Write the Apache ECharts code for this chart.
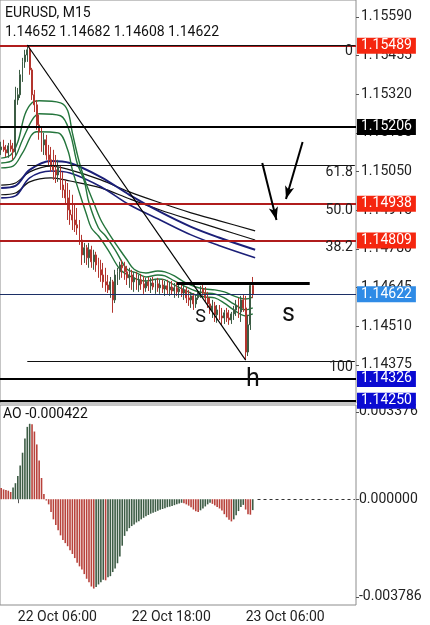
<!DOCTYPE html>
<html><head><meta charset="utf-8">
<script src="https://cdn.jsdelivr.net/npm/echarts@6/dist/echarts.min.js"></script>
<style>html,body{margin:0;padding:0;background:#fff}#c{width:430px;height:625px}</style>
</head><body><div id="c"></div>
<script>
// ---- data (EURUSD M15, candle index 0 = 22 Oct 04:15) ----
const opens = [1.15126,1.15136,1.15126,1.15115,1.15140,1.15129,1.15119,1.15300,1.15318,1.15388,1.15433,1.15457,1.15475,1.15405,1.15318,1.15283,1.15213,1.15189,1.15143,1.15161,1.15108,1.15091,1.15073,1.15056,1.15038,1.15063,1.15003,1.14986,1.14958,1.14916,1.14899,1.14881,1.14864,1.14853,1.14811,1.14759,1.14784,1.14749,1.14777,1.14735,1.14759,1.14724,1.14707,1.14689,1.14665,1.14654,1.14637,1.14665,1.14602,1.14689,1.14700,1.14724,1.14714,1.14700,1.14679,1.14689,1.14665,1.14679,1.14654,1.14672,1.14658,1.14644,1.14665,1.14651,1.14661,1.14647,1.14658,1.14644,1.14654,1.14640,1.14651,1.14637,1.14647,1.14633,1.14644,1.14630,1.14640,1.14626,1.14637,1.14609,1.14602,1.14616,1.14588,1.14609,1.14630,1.14640,1.14626,1.14609,1.14588,1.14567,1.14581,1.14550,1.14567,1.14546,1.14539,1.14557,1.14539,1.14532,1.14553,1.14567,1.14584,1.14560,1.14602,1.14574,1.14420,1.14515,1.14652];
const highs = [1.15154,1.15161,1.15143,1.15150,1.15161,1.15150,1.15346,1.15342,1.15405,1.15447,1.15475,1.15492,1.15482,1.15412,1.15335,1.15300,1.15248,1.15203,1.15185,1.15178,1.15143,1.15136,1.15126,1.15108,1.15091,1.15073,1.15049,1.15021,1.15010,1.14986,1.14969,1.14934,1.14923,1.14881,1.14829,1.14801,1.14794,1.14801,1.14791,1.14777,1.14770,1.14749,1.14742,1.14731,1.14714,1.14689,1.14682,1.14672,1.14707,1.14714,1.14735,1.14742,1.14735,1.14721,1.14714,1.14707,1.14700,1.14700,1.14689,1.14693,1.14686,1.14679,1.14682,1.14679,1.14682,1.14675,1.14679,1.14672,1.14675,1.14668,1.14672,1.14665,1.14668,1.14661,1.14665,1.14658,1.14661,1.14651,1.14647,1.14637,1.14630,1.14626,1.14619,1.14637,1.14651,1.14654,1.14647,1.14630,1.14609,1.14602,1.14595,1.14584,1.14584,1.14574,1.14567,1.14574,1.14567,1.14560,1.14581,1.14602,1.14609,1.14616,1.14619,1.14616,1.14550,1.14661,1.14682];
const lows = [1.15108,1.15119,1.15101,1.15098,1.15119,1.15091,1.15101,1.15283,1.15307,1.15363,1.15412,1.15433,1.15388,1.15300,1.15258,1.15196,1.15161,1.15119,1.15108,1.15091,1.15073,1.15049,1.15021,1.15010,1.15014,1.14986,1.14958,1.14934,1.14881,1.14864,1.14846,1.14839,1.14829,1.14794,1.14724,1.14731,1.14724,1.14714,1.14714,1.14707,1.14700,1.14679,1.14665,1.14644,1.14630,1.14626,1.14609,1.14557,1.14591,1.14654,1.14672,1.14679,1.14672,1.14654,1.14644,1.14637,1.14630,1.14637,1.14630,1.14637,1.14623,1.14630,1.14633,1.14626,1.14637,1.14623,1.14630,1.14623,1.14626,1.14616,1.14623,1.14616,1.14619,1.14609,1.14616,1.14609,1.14612,1.14602,1.14591,1.14581,1.14574,1.14567,1.14574,1.14602,1.14609,1.14616,1.14595,1.14574,1.14553,1.14539,1.14525,1.14522,1.14532,1.14515,1.14518,1.14525,1.14515,1.14518,1.14532,1.14546,1.14539,1.14525,1.14560,1.14392,1.14406,1.14497,1.14608];
const closes = [1.15136,1.15126,1.15115,1.15140,1.15129,1.15119,1.15300,1.15318,1.15388,1.15433,1.15457,1.15475,1.15405,1.15318,1.15283,1.15213,1.15189,1.15143,1.15161,1.15108,1.15091,1.15073,1.15056,1.15038,1.15063,1.15003,1.14986,1.14958,1.14916,1.14899,1.14881,1.14864,1.14853,1.14811,1.14759,1.14784,1.14749,1.14777,1.14735,1.14759,1.14724,1.14707,1.14689,1.14665,1.14654,1.14637,1.14665,1.14602,1.14689,1.14700,1.14724,1.14714,1.14700,1.14679,1.14689,1.14665,1.14679,1.14654,1.14672,1.14658,1.14644,1.14665,1.14651,1.14661,1.14647,1.14658,1.14644,1.14654,1.14640,1.14651,1.14637,1.14647,1.14633,1.14644,1.14630,1.14640,1.14626,1.14637,1.14609,1.14602,1.14616,1.14588,1.14609,1.14630,1.14640,1.14626,1.14609,1.14588,1.14567,1.14581,1.14550,1.14567,1.14546,1.14539,1.14557,1.14539,1.14532,1.14553,1.14567,1.14584,1.14560,1.14602,1.14574,1.14420,1.14515,1.14652,1.14622];
const aoValues = [0.00043,0.00038,0.00036,0.00033,0.00028,0.00045,0.00062,0.00090,0.00130,0.00180,0.00235,0.00280,0.00292,0.00290,0.00262,0.00212,0.00150,0.00082,0.00020,-0.00005,-0.00020,-0.00050,-0.00078,-0.00100,-0.00120,-0.00140,-0.00158,-0.00170,-0.00182,-0.00198,-0.00212,-0.00228,-0.00246,-0.00260,-0.00272,-0.00290,-0.00308,-0.00322,-0.00338,-0.00346,-0.00340,-0.00330,-0.00322,-0.00312,-0.00314,-0.00302,-0.00298,-0.00282,-0.00268,-0.00248,-0.00222,-0.00180,-0.00142,-0.00124,-0.00112,-0.00104,-0.00098,-0.00090,-0.00085,-0.00078,-0.00072,-0.00066,-0.00061,-0.00056,-0.00052,-0.00049,-0.00045,-0.00041,-0.00038,-0.00035,-0.00031,-0.00029,-0.00026,-0.00023,-0.00020,-0.00017,-0.00014,-0.00016,-0.00020,-0.00025,-0.00031,-0.00040,-0.00047,-0.00050,-0.00043,-0.00036,-0.00028,-0.00020,-0.00014,-0.00018,-0.00024,-0.00030,-0.00036,-0.00044,-0.00058,-0.00070,-0.00080,-0.00086,-0.00078,-0.00062,-0.00046,-0.00030,-0.00022,-0.00040,-0.00058,-0.00060,-0.000422];
// moving averages [candleIndex, price]
const greenUpper = [[0,1.15097],[4,1.15108],[7,1.15153],[10,1.15249],[13,1.15290],[16,1.15297],[25,1.15290],[28,1.15263],[30,1.15185],[33,1.15080],[36,1.15003],[39,1.14941],[42,1.14881],[45,1.14839],[50,1.14777],[53,1.14742],[56,1.14709],[61,1.14696],[66,1.14703],[69,1.14700],[73,1.14686],[77,1.14665],[82,1.14647],[86,1.14640],[90,1.14637],[94,1.14630],[98,1.14616],[103,1.14605],[106,1.14612]];
const greenMid = [[0,1.15080],[5,1.15091],[9,1.15161],[13,1.15230],[16,1.15252],[25,1.15245],[29,1.15185],[32,1.15080],[35,1.15017],[37,1.14941],[41,1.14853],[44,1.14825],[48,1.14777],[53,1.14709],[57,1.14696],[61,1.14682],[66,1.14689],[69,1.14686],[73,1.14668],[77,1.14651],[82,1.14633],[86,1.14626],[90,1.14623],[94,1.14609],[98,1.14588],[103,1.14567],[106,1.14574]];
const greenLower = [[0,1.15063],[5,1.15069],[9,1.15115],[15,1.15189],[24,1.15185],[28,1.15126],[30,1.15056],[33,1.14975],[36,1.14899],[38,1.14853],[41,1.14825],[45,1.14777],[50,1.14709],[54,1.14686],[58,1.14672],[61,1.14668],[66,1.14675],[69,1.14672],[73,1.14654],[77,1.14637],[82,1.14619],[86,1.14612],[90,1.14609],[94,1.14591],[98,1.14567],[103,1.14546],[106,1.14553]];
const slowBlack1 = [[0,1.15003],[6,1.15010],[12,1.15049],[21,1.15069],[29,1.15056],[42,1.15021],[54,1.14979],[67,1.14941],[80,1.14906],[92,1.14878],[107,1.14843]];
const slowBlack2 = [[0,1.14969],[6,1.14975],[12,1.15014],[21,1.15028],[29,1.15017],[42,1.14993],[54,1.14955],[67,1.14916],[80,1.14881],[92,1.14850],[107,1.14811]];
const slowNavy1 = [[0,1.14993],[6,1.15000],[12,1.15056],[21,1.15087],[29,1.15080],[42,1.15031],[54,1.14969],[67,1.14909],[80,1.14857],[92,1.14819],[107,1.14777]];
const slowNavy2 = [[0,1.14958],[6,1.14965],[12,1.15028],[21,1.15052],[29,1.15045],[42,1.14997],[54,1.14934],[67,1.14881],[80,1.14829],[92,1.14791],[107,1.14749]];
// levels: [label, price, draw own line]
const fibLevels = [['0',1.15492,true],['61.8',1.15071,true],['50.0',1.14938,false],['38.2',1.14809,false],['100',1.14389,true]];
const fibAnchor = 11;
const redLevels = [1.15489,1.14938,1.14809];
const blackLevel = 1.15206;
const bidLevel = 1.14622;
const blueLevels = [1.14326,1.14250];
const boxLevel = [74,130,1.14661];
const trendLine = [[11,1.15492],[103,1.14392]];
const arrows = [[[127,1.15153],[120,1.14954]],[[110,1.15080],[116,1.14881]]];
const notes = [['S',84,1.14539,18],['s',121,1.14550,25],['h',106,1.14323,25]];
const tickLabels = ['22 Oct 06:00','22 Oct 18:00','23 Oct 06:00'];
const priceTicks = [1.14375,1.14510,1.14645,1.14780,1.14915,1.15050,1.15185,1.15320,1.15455,1.15590];
const aoTicks = [-0.003786,0,0.003376];
const nSlots = 150;

// ---- build ----
const cats = [];
for (let i = 0; i < nSlots; i++) {
  const t = 4*60 + 15 + 15*i;
  const d = 22 + Math.floor(t/1440), m = t % 1440;
  cats.push(d + ' Oct ' + String(Math.floor(m/60)).padStart(2,'0') + ':' + String(m%60).padStart(2,'0'));
}
const candle = opens.map((o,i)=>[o, closes[i], lows[i], highs[i]]);
const GREEN = '#3c5c44', RED = '#b3352e';
const aoData = aoValues.map((v,i)=>({value:v, itemStyle:{color: (i>0 && v>aoValues[i-1]) ? '#3d5c45' : '#b8423b'}}));
const last = opens.length-1;
const F = 'Roboto';
const lastIdx = nSlots-1;

const boxLabel = (bg,v)=>({show:true, position:'end', distance:1, formatter:v.toFixed(5), color:'#fff', backgroundColor:bg, padding:[1,4,0,4], fontSize:14, fontFamily:F, lineHeight:15});
const seg = [];
fibLevels.forEach(([lab,v,own])=>{
  seg.push([{coord:[fibAnchor,v], lineStyle:{color: own ? '#111' : 'rgba(0,0,0,0)',width:1,type:'solid'}, label:{show:true, position:'insideEndBottom', formatter:lab, distance:[2,0], color:'#222', fontSize:14, fontFamily:F}},{coord:[lastIdx,v]}]);
});
seg.push([{coord:[boxLevel[0],boxLevel[2]], lineStyle:{color:'#000',width:3,type:'solid'}, label:{show:false}},{coord:[boxLevel[1],boxLevel[2]]}]);
seg.push([{coord:trendLine[0], lineStyle:{color:'#000',width:1.2,type:'solid'}, label:{show:false}},{coord:trendLine[1]}]);
arrows.forEach(a=>seg.push([{coord:a[0], symbol:'none', lineStyle:{color:'#000',width:2,type:'solid'}, label:{show:false}},{coord:a[1], symbol:'arrow', symbolSize:[7,13]}]));

const hl = [];
redLevels.forEach(v=>hl.push({yAxis:v, lineStyle:{color:'#b01c1c',width:2,type:'solid'}, label:boxLabel('#f5260f',v)}));
hl.push({yAxis:blackLevel, lineStyle:{color:'#000',width:2,type:'solid'}, label:boxLabel('#000',blackLevel)});
hl.push({yAxis:bidLevel, lineStyle:{color:'#1c2f66',width:1,type:'solid'}, label:boxLabel('#2f8be6',bidLevel)});
blueLevels.forEach(v=>hl.push({yAxis:v, lineStyle:{color:'#000',width:2,type:'solid'}, label:boxLabel('#0a0ad2',v)}));

const maLine = (data,color,width)=>({type:'line', xAxisIndex:0, yAxisIndex:0, data, showSymbol:false, smooth:0.35, silent:true, lineStyle:{color,width}, z:3});

const chart = echarts.init(document.getElementById('c'), null, {renderer:'canvas'});
chart.setOption({
  animation:false,
  textStyle:{fontFamily:F},
  grid:[
    {left:0, top:0, width:356, height:403, show:true, borderColor:'#8c8c8c', borderWidth:1, backgroundColor:'#fff'},
    {left:0, top:405, width:356, height:200, show:true, borderColor:'#8c8c8c', borderWidth:1, backgroundColor:'#fff'}
  ],
  xAxis:[
    {type:'category', gridIndex:0, data:cats, axisLine:{show:false}, axisTick:{show:false}, axisLabel:{show:false}, splitLine:{show:false}},
    {type:'category', gridIndex:1, data:cats, axisLine:{show:false},
      axisTick:{show:true, alignWithLabel:true, length:4, interval:(i,v)=>tickLabels.indexOf(v)>=0, lineStyle:{color:'#555'}},
      axisLabel:{show:true, interval:(i,v)=>tickLabels.indexOf(v)>=0, align:'left', margin:5, fontSize:14, color:'#222', fontFamily:F},
      splitLine:{show:false}}
  ],
  yAxis:[
    {type:'value', gridIndex:0, position:'right', min:1.14242, max:1.15649, axisLine:{show:false},
      axisTick:{show:true, length:3, customValues:priceTicks, lineStyle:{color:'#555'}},
      axisLabel:{show:true, customValues:priceTicks, formatter:v=>v.toFixed(5), fontSize:14, color:'#222', margin:5, fontFamily:F},
      splitLine:{show:false}},
    {type:'value', gridIndex:1, position:'right', min:-0.004096, max:0.003647, axisLine:{show:false},
      axisTick:{show:true, length:3, customValues:aoTicks, lineStyle:{color:'#555'}},
      axisLabel:{show:true, customValues:aoTicks, formatter:v=>v.toFixed(6), fontSize:14, color:'#222', margin:3, fontFamily:F},
      splitLine:{show:false}}
  ],
  series:[
    maLine(slowBlack1,'#111',1.2), maLine(slowBlack2,'#111',1.2),
    maLine(slowNavy1,'#1b1f78',2), maLine(slowNavy2,'#1b1f78',1.6),
    {type:'line', xAxisIndex:0, yAxisIndex:0, data:cats.map(()=>null), showSymbol:false, silent:true, z:3,
      markLine:{silent:true, symbol:'none', precision:5, animation:false, data:hl}},
    {type:'candlestick', xAxisIndex:0, yAxisIndex:0, data:candle, barWidth:1.4, z:4,
      itemStyle:{color:GREEN, color0:RED, borderColor:GREEN, borderColor0:RED, borderWidth:1},
      markLine:{silent:true, symbol:'none', precision:5, animation:false, data:seg},
      markPoint:{silent:true, symbol:'rect', symbolSize:1, itemStyle:{color:'rgba(0,0,0,0)'},
        data:notes.map(([t,x,y,s])=>({coord:[x,y], label:{show:true, position:'inside', formatter:t, fontSize:s, color:'#111', fontFamily:F}}))}
    },
    maLine(greenUpper,'#24753c',1.4), maLine(greenMid,'#24753c',1.4), maLine(greenLower,'#24753c',1.4),
    {type:'bar', xAxisIndex:1, yAxisIndex:1, data:aoData, barWidth:1.6,
      markLine:{silent:true, symbol:'none', precision:6, data:[[{coord:[opens.length+1,0], lineStyle:{color:'#333',width:1,type:[3,3]}, label:{show:false}},{coord:[lastIdx,0]}]]}}
  ],
  graphic:[
    {type:'text', left:5, top:6, style:{text:'EURUSD, M15', font:'14px Roboto', fill:'#111'}, z:10},
    {type:'text', left:5, top:25, style:{text:[opens[last],highs[last],lows[last],closes[last]].map(v=>v.toFixed(5)).join(' '), font:'14px Roboto', fill:'#111'}, z:10},
    {type:'text', left:3, top:407, style:{text:'AO ' + aoValues[last].toFixed(6), font:'14px Roboto', fill:'#111'}, z:10}
  ]
});
</script></body></html>
